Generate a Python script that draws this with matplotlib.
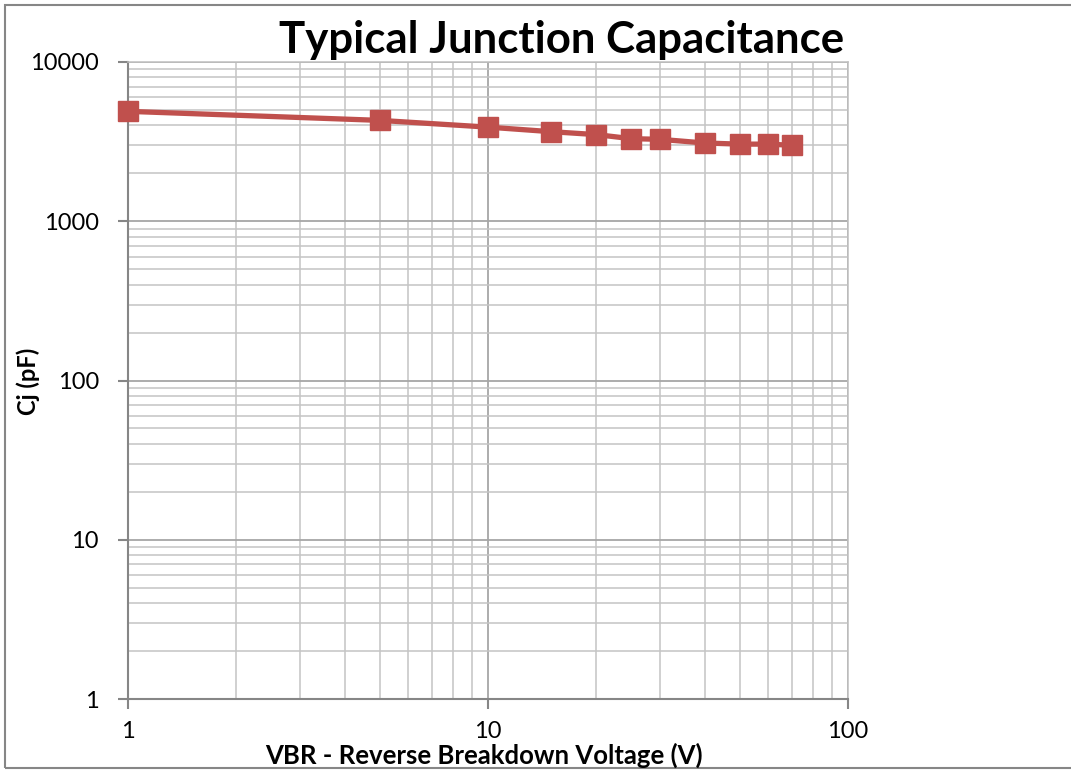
import numpy as np
import matplotlib.pyplot as plt
from matplotlib.patches import Rectangle
from matplotlib.ticker import LogLocator, NullFormatter, FixedLocator

plt.rcParams['font.family'] = ['Lato', 'DejaVu Sans']

# data
vbr = [1, 5, 10, 15, 20, 25, 30, 40, 50, 60, 70]
cj = [4900, 4300, 3900, 3650, 3500, 3300, 3270, 3100, 3050, 3050, 3000]

x_ticks = [1, 10, 100]
x_labels = ['1', '10', '100']
y_ticks = [1, 10, 100, 1000, 10000]
y_labels = ['1', '10', '100', '1000', '10000']

W, H = 1071, 770
fig = plt.figure(figsize=(W / 100, H / 100), dpi=100)
ax = fig.add_axes([128 / W, 1 - 699 / H, (848 - 128) / W, (699 - 62) / H])

ax.set_xscale('log')
ax.set_yscale('log')
ax.set_xlim(1, 100)
ax.set_ylim(1, 10000)

ax.xaxis.set_major_locator(FixedLocator(x_ticks))
ax.yaxis.set_major_locator(FixedLocator(y_ticks))
ax.set_xticklabels(x_labels)
ax.set_yticklabels(y_labels)
ax.xaxis.set_minor_locator(LogLocator(base=10, subs=np.arange(2, 10)))
ax.yaxis.set_minor_locator(LogLocator(base=10, subs=np.arange(2, 10)))
ax.xaxis.set_minor_formatter(NullFormatter())
ax.yaxis.set_minor_formatter(NullFormatter())

ax.grid(True, which='major', color='#a6a6a6', linewidth=1.3)
ax.grid(True, which='minor', color='#c4c4c4', linewidth=1.1)
ax.set_axisbelow(True)

for s in ['top', 'right']:
    ax.spines[s].set_color('#bfbfbf')
    ax.spines[s].set_linewidth(1.1)
for s in ['left', 'bottom']:
    ax.spines[s].set_color('#868686')
    ax.spines[s].set_linewidth(1.5)

ax.tick_params(which='major', direction='out', length=7, width=1.5,
               color='#868686', labelsize=17, labelcolor='black')
ax.tick_params(which='minor', length=0)
ax.tick_params(axis='x', pad=9)
ax.tick_params(axis='y', pad=14)

ax.plot(vbr, cj, color='#c0504d', linewidth=3.8, marker='s',
        markersize=14, markeredgecolor='#c0504d', zorder=3, clip_on=False)

fig.text(562 / W, 1 - 40 / H, 'Typical Junction Capacitance',
         fontsize=31.5, fontweight='bold', ha='center', va='center')
fig.text(484 / W, 1 - 755 / H, 'VBR - Reverse Breakdown Voltage (V)',
         fontsize=18.5, fontweight='bold', ha='center', va='center')
fig.text(28 / W, 1 - 381 / H, 'Cj (pF)', fontsize=17, fontweight='bold',
         rotation=90, ha='center', va='center')

fig.patches.append(Rectangle((5 / W, 1 - 768 / H), 1.2, (768 - 5) / H,
                             transform=fig.transFigure, fill=False,
                             edgecolor='#868686', linewidth=1.5))

fig.savefig('out.png', dpi=100)
